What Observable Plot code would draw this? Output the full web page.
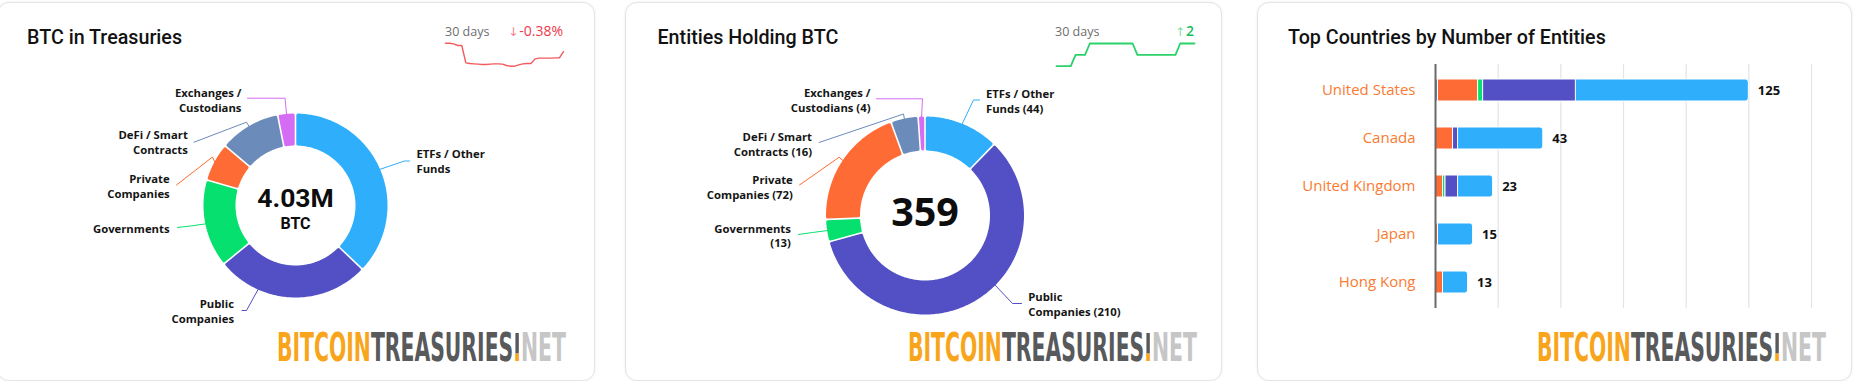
<!DOCTYPE html>
<html>
<head>
<meta charset="utf-8">
<script src="https://cdn.jsdelivr.net/npm/d3@7"></script>
<script src="https://cdn.jsdelivr.net/npm/@observablehq/plot@0.6"></script>
<style>
html,body{margin:0;padding:0;background:#fff;}
#root{position:relative;width:1858px;height:381px;overflow:hidden;font-family:"Open Sans",sans-serif;}
.card{position:absolute;background:#fff;border:1px solid #e4e4e4;border-radius:12px;box-shadow:0 0 3px rgba(0,0,0,0.07);box-sizing:border-box;}
.layer{position:absolute;top:0;}
.layer svg{display:block;}
</style>
</head>
<body>
<div id="root"></div>
<script>
// ---------------- DATA ----------------
const categories = ["ETFs / Other Funds","Public Companies","Governments","Private Companies","DeFi / Smart Contracts","Exchanges / Custodians"];
const categoryLabelLines = ["ETFs / Other\nFunds","Public\nCompanies","Governments","Private\nCompanies","DeFi / Smart\nContracts","Exchanges /\nCustodians"];
const btcHoldings = [1495000, 1088000, 617000, 272000, 431000, 125000];
const entityCounts = [44, 210, 13, 72, 16, 4];

const btc30Days = [4045.5,4045.5,4044.3,4041.2,4041.2,4008.9,4007.6,4007.0,4006.4,4005.7,4005.7,4006.4,4007.0,4007.0,4006.4,4003.9,4002.6,4002.6,4005.1,4007.0,4007.6,4007.6,4016.3,4017.6,4017.6,4017.6,4017.6,4018.2,4018.2,4030.0];
const entities30Days = [357,357,357,357,358,358,358,359,359,359,359,359,359,359,359,359,359,358,358,358,358,358,358,358,358,358,359,359,359,359];

const countries = ["United States","Canada","United Kingdom","Japan","Hong Kong"];
const countryDeFi = [1,0,0,0,0];
const countryPrivate = [16,7,3,1,3];
const countryGovernments = [2,0,1,0,0];
const countryPublic = [37,2,5,0,0];
const countryETF = [69,34,14,14,10];
const xTicks = [0,25,50,75,100,125,150];

const titles = ["BTC in Treasuries","Entities Holding BTC","Top Countries by Number of Entities"];
const logoWords = [["BITCOIN","gold"],["TREASURIES","dark"],[".","gold"],["NET","light"]];

// ---------------- STYLE / LAYOUT ----------------
const categoryColors = ["#2eaefb","#534fc4","#05e06e","#ff6b35","#6b8bbb","#d46cf4"];
const logoColors = {gold:"#f8a51c", dark:"#58595b", light:"#c6c6c6"};
const labelFont = {fontFamily:"Open Sans, sans-serif", fontWeight:700, fontSize:11.3, lineHeight:1.3, fill:"#151515"};
const centerFont = "Roboto, 'Open Sans', sans-serif";

const donut1Layout = {left:0, width:600, cx:295, cy:205, ro:92, ri:60,
  labels:[
    {anchor:"start", t:[121,-44.5], L:[114,-44.5], B:[109,-44.5]},
    {anchor:"end", t:[-61.5,105], L:[-53.5,105], B:[-49,105], touch:204},
    {anchor:"end", t:[-126,22.3], L:[-118,22], B:[-105,20.5]},
    {anchor:"end", t:[-125.8,-19.8], L:[-119,-20.5], B:[-83,-48.5]},
    {anchor:"end", t:[-107.7,-63.7], L:[-101.5,-63.3], B:[-49,-83.3]},
    {anchor:"end", t:[-54,-105.8], L:[-48,-107.3], B:[-10.5,-107.3]}
  ]};
const donut2Layout = {left:620, width:600, cx:924.5, cy:215, ro:99, ri:65,
  labels:[
    {anchor:"start", t:[61,-114.8], L:[54.5,-115.5], B:[48.5,-115.5]},
    {anchor:"start", t:[103.2,88.2], L:[96.5,88], B:[87.5,88], touch:134.8},
    {anchor:"end", t:[-134.1,19.7], L:[-126.5,19], B:[-112.5,17]},
    {anchor:"end", t:[-132.2,-28.5], L:[-125.5,-30.5], B:[-86,-58.2]},
    {anchor:"end", t:[-113,-71.8], L:[-106,-73], B:[-21.5,-101.5]},
    {anchor:"end", t:[-54.5,-115.8], L:[-48.5,-116.7], B:[-2.5,-116.7]}
  ]};

const root = document.getElementById("root");
function addCard(left, width){
  const d = document.createElement("div");
  d.className = "card";
  d.style.left = left+"px"; d.style.top = "1.5px";
  d.style.width = width+"px"; d.style.height = "379px";
  root.appendChild(d);
}
addCard(-3, 598); addCard(625, 597); addCard(1257, 595);

function place(node, left, top){
  const w = document.createElement("div");
  w.className = "layer";
  w.style.left = left+"px"; w.style.top = top+"px";
  w.appendChild(node);
  root.appendChild(w);
}

const colorScale = {type:"ordinal", domain:categories, range:categoryColors};

function donut(values, lay, labelTexts, centerMarks){
  const {cx, cy, ro, ri} = lay;
  const arcs = d3.pie().sort(null).value(d=>d)(values);
  const pts = [];
  const inset = 1.6, half = 0.8;
  arcs.forEach((a,i)=>{
    const key = categories[i];
    const r1 = ro - inset, r0 = ri + inset;
    const dO = (inset+half)/r1, dI = (inset+half)/r0;
    let a0o = a.startAngle + dO, a1o = a.endAngle - dO;
    let a0i = a.startAngle + dI, a1i = a.endAngle - dI;
    const mid = (a.startAngle + a.endAngle)/2;
    if (a1o < a0o) { a0o = a1o = mid; }
    if (a1i < a0i) { a0i = a1i = mid; }
    const n = Math.max(2, Math.ceil((a.endAngle - a.startAngle)*60));
    for (let k=0;k<=n;k++){ const t=a0o+(a1o-a0o)*k/n; pts.push({key, x:cx+r1*Math.sin(t), y:cy-r1*Math.cos(t)}); }
    for (let k=n;k>=0;k--){ const t=a0i+(a1i-a0i)*k/n; pts.push({key, x:cx+r0*Math.sin(t), y:cy-r0*Math.cos(t)}); }
  });
  const conn = [];
  const labels = [];
  arcs.forEach((a,i)=>{
    const key = categories[i];
    const l = lay.labels[i];
    const ang = l.touch != null ? l.touch*Math.PI/180 : (a.startAngle+a.endAngle)/2;
    conn.push({key, x:cx+l.L[0], y:cy+l.L[1]});
    conn.push({key, x:cx+l.B[0], y:cy+l.B[1]});
    conn.push({key, x:cx+(ro-0.5)*Math.sin(ang), y:cy-(ro-0.5)*Math.cos(ang)});
    labels.push({key, anchor:l.anchor, x:cx+l.t[0], y:cy+l.t[1], text:labelTexts[i]});
  });
  return Plot.plot({
    width: lay.width, height: 381, margin: 0,
    style: {background:"transparent", overflow:"visible"},
    x: {domain:[lay.left, lay.left+lay.width], range:[0, lay.width], axis:null},
    y: {domain:[0,381], range:[0,381], axis:null},
    color: colorScale,
    marks: [
      Plot.line(pts, {x:"x", y:"y", z:"key", fill:"key", stroke:"key", strokeWidth:inset*2, strokeLinejoin:"round", curve:"linear-closed"}),
      Plot.line(conn, {x:"x", y:"y", z:"key", stroke:"key", strokeWidth:1}),
      Plot.text(labels.filter(d=>d.anchor==="end"), {x:"x", y:"y", text:"text", textAnchor:"end", lineAnchor:"middle", ...labelFont}),
      Plot.text(labels.filter(d=>d.anchor==="start"), {x:"x", y:"y", text:"text", textAnchor:"start", lineAnchor:"middle", ...labelFont}),
      ...centerMarks(cx, cy)
    ]
  });
}

// Donut 1: BTC in treasuries
const btcTotal = d3.sum(btcHoldings);
place(donut(btcHoldings, donut1Layout, categoryLabelLines, (cx, cy)=>[
  Plot.text([d3.format(".3s")(btcTotal)], {x:()=>cx, y:()=>cy+1.5, text:d=>d, textAnchor:"middle", lineAnchor:"bottom", fontFamily:centerFont, fontWeight:700, fontSize:26.5, fill:"#0d0d0d"}),
  Plot.text(["BTC"], {x:()=>cx, y:()=>cy+23.5, text:d=>d, textAnchor:"middle", lineAnchor:"bottom", fontFamily:centerFont, fontWeight:700, fontSize:16, fill:"#0d0d0d"})
]), 0, 0);

// Donut 2: entities
const entityTotal = d3.sum(entityCounts);
const entityLabels = categoryLabelLines.map((l,i)=> l + (l.includes("\n") ? " " : "\n") + "(" + entityCounts[i] + ")");
place(donut(entityCounts, donut2Layout, entityLabels, (cx, cy)=>[
  Plot.text([String(entityTotal)], {x:()=>cx, y:()=>cy+10.7, text:d=>d, textAnchor:"middle", lineAnchor:"bottom", fontFamily:"Open Sans, sans-serif", fontWeight:700, fontSize:39.5, fill:"#0d0d0d"})
]), 620, 0);

// Sparklines
function spark(values, width, color, sw, mt){
  return Plot.plot({
    width, height:32, marginLeft:4, marginRight:4, marginTop:mt, marginBottom:4.3,
    style:{background:"transparent", overflow:"visible"},
    x:{domain:[0, values.length-1], axis:null},
    y:{axis:null},
    marks:[Plot.line(values, {x:(d,i)=>i, y:d=>d, stroke:color, strokeWidth:sw, strokeLinejoin:"round"})]
  });
}
place(spark(btc30Days, 126, "#f15b5d", 1.4, 4.7), 441, 38);
place(spark(entities30Days, 146, "#2bd169", 1.8, 5), 1052, 38);

// Bar chart
const segs = [
  {cat:categories[4], vals:countryDeFi},
  {cat:categories[3], vals:countryPrivate},
  {cat:categories[2], vals:countryGovernments},
  {cat:categories[1], vals:countryPublic}
];
const rows = [];
segs.forEach(s => s.vals.forEach((v,i)=>{ if (v>0) rows.push({country:countries[i], category:s.cat, value:v}); }));
const totals = countries.map((c,i)=>({country:c, total: countryDeFi[i]+countryPrivate[i]+countryGovernments[i]+countryPublic[i]+countryETF[i]}));
const barChart = Plot.plot({
  width:597, height:381, marginTop:64, marginBottom:73, marginLeft:178, marginRight:43,
  style:{background:"transparent", overflow:"visible"},
  x:{domain:[0,150], range:[178,554], axis:null},
  y:{domain:countries, range:[64,308], paddingInner:0.54, paddingOuter:0.27, axis:null},
  color: colorScale,
  marks:[
    Plot.ruleX(xTicks.filter(t=>t>0), {stroke:"#e4e4e4", strokeWidth:1.2}),
    Plot.barX(totals, {x:"total", y:"country", fill:()=>categories[0], stroke:"white", strokeWidth:1, rx:3}),
    Plot.barX(rows, Plot.stackX({x:"value", y:"country", fill:"category", order:segs.map(s=>s.cat), stroke:"white", strokeWidth:1})),
    Plot.ruleX([0], {stroke:"#686868", strokeWidth:2}),
    Plot.text(totals, {x:"total", y:"country", text:d=>String(d.total), dx:9, textAnchor:"start", fontFamily:"Open Sans, sans-serif", fontWeight:700, fontSize:13, fill:"#111"}),
    Plot.text(countries, {x:()=>0, y:d=>d, text:d=>d, dx:-20, textAnchor:"end", fontFamily:"Open Sans, sans-serif", fontSize:15, fill:"#f97b31"})
  ]
});
place(barChart, 1257, 0);

// Overlay: titles, 30-day deltas, logos
const svg = d3.select(root).append("svg")
  .attr("width",1858).attr("height",381)
  .style("position","absolute").style("left","0").style("top","0").style("pointer-events","none");
const titleX = [27, 657.5, 1288];
titles.forEach((t,i)=> svg.append("text").attr("x",titleX[i]).attr("y",44)
  .attr("font-family","Roboto, 'Open Sans', sans-serif").attr("font-weight",500).attr("font-size",19.7)
  .attr("fill","#121212").text(t));
[445,1055].forEach(x=> svg.append("text").attr("x",x).attr("y",36)
  .attr("font-family","'Open Sans', sans-serif").attr("font-size",12.5).attr("fill","#6e6e6e").text("30 days"));

const btcChange = (btc30Days[btc30Days.length-1]-btc30Days[0])/btc30Days[0]*100;
const d1 = svg.append("text").attr("x",563).attr("y",36).attr("text-anchor","end")
  .attr("font-family","'Open Sans', sans-serif").attr("font-size",14);
d1.append("tspan").attr("fill","#f6808a").attr("font-family","'DejaVu Sans', sans-serif").attr("font-size",12).text(btcChange<0?"↓":"↑");
d1.append("tspan").attr("fill","#ee3a4c").attr("dx",1).text(btcChange.toFixed(2)+"%");

const entChange = entities30Days[entities30Days.length-1]-entities30Days[0];
const d2 = svg.append("text").attr("x",1194).attr("y",36).attr("text-anchor","end")
  .attr("font-family","'Open Sans', sans-serif").attr("font-size",14).attr("font-weight",600);
d2.append("tspan").attr("fill","#7fe0a3").attr("font-family","'DejaVu Sans', sans-serif").attr("font-size",12).attr("font-weight",400).text(entChange<0?"↓":"↑");
d2.append("tspan").attr("fill","#19c05a").attr("dx",1).text(String(Math.abs(entChange)));

// Logos: one text each, tall condensed look via scaling to the measured width
const logoFont = "'Liberation Sans Narrow', 'DejaVu Sans Condensed', 'Liberation Sans', sans-serif";
const logoFs = 27, logoW = 289, logoCap = 28;
[277, 908, 1537].forEach(x0=>{
  const g = svg.append("g");
  const t = g.append("text").attr("x",0).attr("y",0)
    .attr("font-family",logoFont).attr("font-weight",700).attr("font-size",logoFs);
  logoWords.forEach(([w,c])=> t.append("tspan").attr("fill",logoColors[c]).text(w));
  const natW = t.node().getComputedTextLength() || logoW;
  const sx = logoW / natW, sy = logoCap / (0.729*logoFs);
  g.attr("transform",`translate(${x0},361) scale(${sx},${sy})`);
  const idx = logoWords[0][0].length + logoWords[1][0].length;
  try {
    const ext = t.node().getExtentOfChar(idx);
    const bw = 3.4 / sx;
    g.insert("rect","text").attr("x", ext.x + ext.width/2 - bw/2).attr("y", -logoFs*0.729)
      .attr("width", bw).attr("height", logoFs*0.729 - 5.2).attr("fill", logoColors.dark);
  } catch(e) {}
});
</script>
</body>
</html>
